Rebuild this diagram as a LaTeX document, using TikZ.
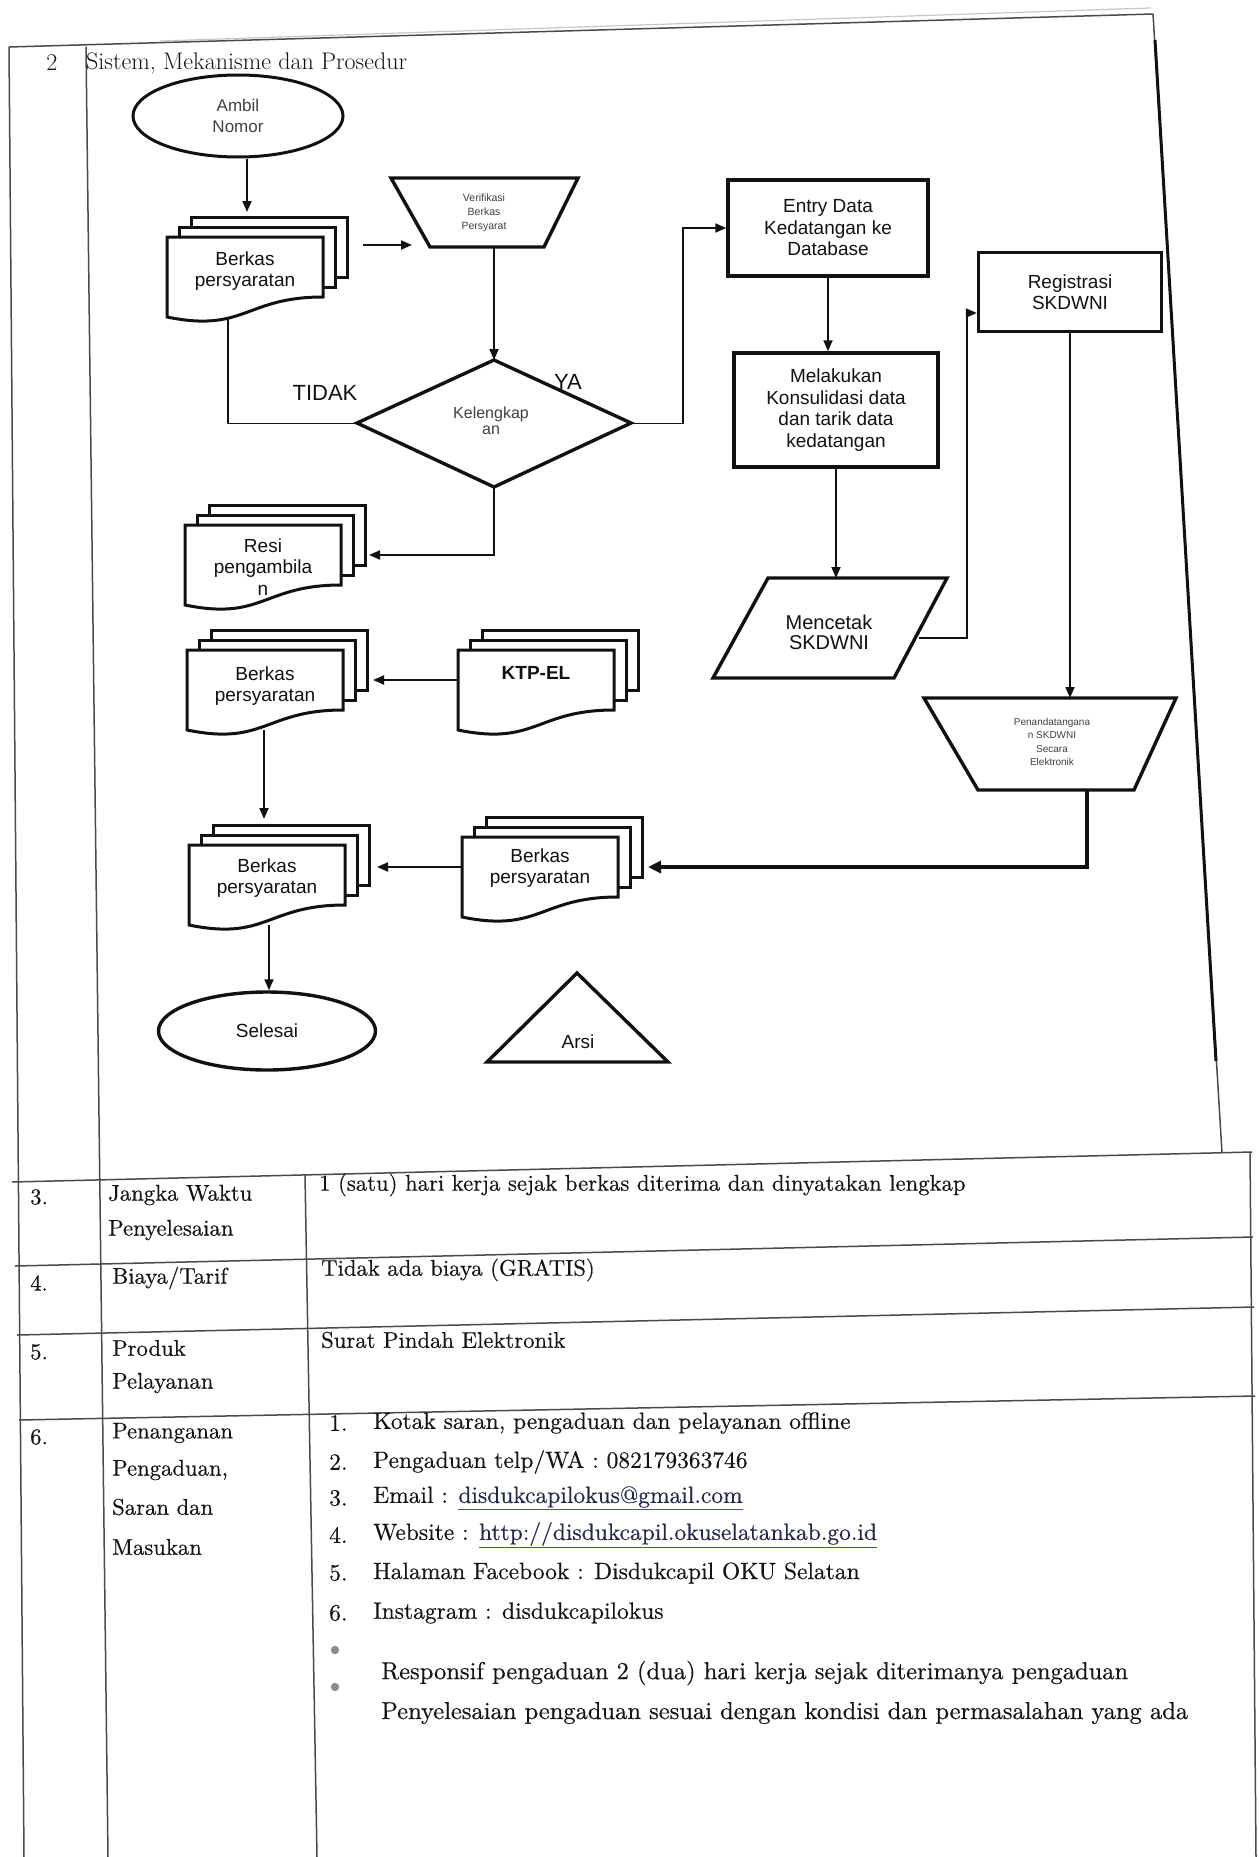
\documentclass[tikz,border=0pt]{standalone}
\usepackage{fontspec}
\newfontfamily\fcsans{Liberation Sans}
\newfontfamily\cellfont{lmroman10-regular.otf}[FakeBold=0.45]
\usetikzlibrary{arrows.meta,shapes.geometric}

\definecolor{inkline}{HTML}{111111}
\definecolor{ruleg}{HTML}{4A4A4A}
\definecolor{cellink}{HTML}{141414}
\definecolor{linkblue}{HTML}{3A55A8}
\definecolor{linktext}{HTML}{23284A}

\tikzset{
  shp/.style={draw=inkline, line width=3.4pt, fill=white, line join=miter},
  docline/.style={draw=inkline, line width=3pt, fill=white, line join=miter},
  conn/.style={draw=inkline, line width=1.8pt},
  arr/.style={conn, -{Triangle[length=11pt,width=9pt]}},
  arrheavy/.style={draw=inkline, line width=3.6pt, -{Triangle[length=13pt,width=12pt]}},
  anchorbox/.style={draw=none, fill=none, inner sep=0pt, outer sep=0pt},
  fctext/.style={font=\fcsans\fontsize{19}{21.5}\selectfont, align=center, inner sep=0pt, text=inkline},
  fcsmall/.style={font=\fcsans\fontsize{16}{16}\selectfont, align=center, inner sep=0pt, text=black!75},
  fctiny/.style={font=\fcsans\fontsize{10.5}{14}\selectfont, align=center, inner sep=0pt, text=black!75},
  fclabel/.style={font=\fcsans\fontsize{22}{24}\selectfont, inner sep=0pt, text=inkline},
  boxnode/.style={shp, rectangle, fctext},
  tabrule/.style={draw=ruleg, line width=1.5pt},
  cell/.style={font=\cellfont\fontsize{22.7}{30}\selectfont, anchor=west, inner sep=0pt, text=cellink},
  celllist/.style={font=\cellfont\fontsize{23.5}{30}\selectfont, anchor=west, inner sep=0pt, text=cellink},
}

% stack of three documents: name, left x, top y, text offset, text, text style
\newcommand\multidoc[6]{%
  \begin{scope}[shift={(#2,#3)}]
    \draw[docline] (24,-20) rectangle (180,40);
    \draw[docline] (12,-10) rectangle (168,50);
    \draw[docline] (0,0) -- (156,0) -- (156,60)
      .. controls (78,60) and (78,96) .. (0,80) -- cycle;
    \node[anchorbox, minimum width=180pt, minimum height=100pt] (#1) at (90,30) {};
    \node[fctext,#6] (#1-t) at (78,#4) {#5};
  \end{scope}}

\newcommand\weblink[1]{{\color{linkblue}\underline{\color{linktext}#1}}}

\begin{document}
\begin{tikzpicture}[x=1pt,y=-1pt]
\useasboundingbox (0,0) rectangle (1258,1857);
\fill[white] (0,0) rectangle (1258,1857);

% ---------- table frame ----------
\draw[black!22, line width=1.2pt] (160,41) -- (1150,8);
\draw[tabrule] (9,47) -- (1153,14);
\draw[tabrule] (9,47) -- (24,1857);
\draw[tabrule] (86,47) -- (108,1857);
\draw[tabrule] (1153,14) -- (1222,1153);
\draw[tabrule] (1250,1152) -- (1256,1857);
\draw[draw=inkline, line width=3pt] (1155,40) -- (1216,1061);
\draw[tabrule] (12,1182) -- (1252,1152);
\draw[tabrule] (15,1266) -- (1253,1237);
\draw[tabrule] (17,1335) -- (1254,1307);
\draw[tabrule] (19,1420) -- (1255,1396);
\draw[tabrule] (305,1175) -- (317,1857);

% ---------- row 2 heading ----------
\node[cell, anchor=center, font=\fontsize{24}{28}\selectfont] (n2) at (52,63) {2};
\node[cell, font=\fontsize{24}{28}\selectfont] (hdr) at (86,63) {Sistem, Mekanisme dan Prosedur};

% ---------- flowchart shapes ----------
\node[shp, ellipse, line width=3pt, minimum width=210pt, minimum height=82pt, inner sep=0pt,
      font=\fcsans\fontsize{17}{21}\selectfont, align=center, text=black!75] (ambil) at (238,116) {Ambil\\Nomor};

\multidoc{b1}{167}{237}{34}{Berkas\\persyaratan}{}

% Verifikasi (manual operation)
\draw[shp] (391,178) -- (578,178) -- (544,247) -- (430,247) -- cycle;
\node[anchorbox, minimum width=187pt, minimum height=69pt] (verif) at (486,212.5) {};
\node[fctiny] (verif-t) at (484,213) {Verifikasi\\Berkas\\Persyarat};

% decision
\draw[shp] (357,423) -- (494,360) -- (631,423) -- (494,487) -- cycle;
\node[anchorbox, minimum width=274pt, minimum height=127pt] (dia) at (494,423.5) {};
\node[fcsmall] (dia-t) at (491,421) {Kelengkap\\an};
\node[fclabel] (tidak) at (325,393) {TIDAK};
\node[fclabel] (ya) at (568,382) {YA};

\node[boxnode, minimum width=200pt, minimum height=96pt] (entry) at (828,228) {Entry Data\\Kedatangan ke\\Database};
\node[boxnode, minimum width=204pt, minimum height=114pt] (mel) at (836,410) {Melakukan\\Konsulidasi data\\dan tarik data\\kedatangan};
\node[boxnode, minimum width=183pt, minimum height=79pt] (reg) at (1070,292) {Registrasi\\SKDWNI};

% Mencetak (data)
\draw[shp] (768,578) -- (947,578) -- (894,678) -- (713,678) -- cycle;
\node[anchorbox, minimum width=234pt, minimum height=100pt] (menc) at (830,628) {};
\node[fctext, font=\fcsans\fontsize{20}{20}\selectfont] (menc-t) at (829,632) {Mencetak\\SKDWNI};

% Penandatanganan (manual operation)
\draw[shp] (924,698) -- (1176,698) -- (1134,790) -- (978,790) -- cycle;
\node[anchorbox, minimum width=252pt, minimum height=92pt] (pen) at (1050,744) {};
\node[fctiny, font=\fcsans\fontsize{10}{13.5}\selectfont] (pen-t) at (1052,742) {Penandatangana\\n SKDWNI\\Secara\\Elektronik};

\multidoc{resi}{185}{525}{42}{Resi\\pengambila\\n}{}
\multidoc{b2}{187}{650}{36}{Berkas\\persyaratan}{}
\multidoc{ktp}{458}{650}{23}{KTP-EL}{font=\fcsans\bfseries\fontsize{19}{21.5}\selectfont}
\multidoc{b3}{189}{845}{33}{Berkas\\persyaratan}{}
\multidoc{b4}{462}{837}{31}{Berkas\\persyaratan}{}

\node[shp, ellipse, minimum width=217pt, minimum height=78pt, inner sep=0pt, fctext] (sel) at (267,1031) {Selesai};

% archive
\draw[shp] (577,973) -- (668,1062) -- (487,1062) -- cycle;
\node[fctext] (arsi) at (578,1042) {Arsi};

% ---------- connectors ----------
\draw[arr, shorten >=5pt] ([xshift=9pt]ambil.south) -- ([xshift=9pt]ambil.south |- b1.north);
\draw[arr] ([xshift=16pt,yshift=22pt]b1.east) -- ++(49,0);
\draw[arr] (dia.north |- verif.south) -- (dia.north);
\draw[conn] ([xshift=-29pt]b1.south) |- (dia.west);
\draw[arr] (dia.east) -- ++(52,0) |- (entry.west);
\draw[arr] (entry.south) -- (entry.south |- mel.north);
\draw[arr] (mel.south) -- (mel.south |- menc.north);
\draw[arr] ([xshift=-28pt,yshift=-10pt]menc.east) -- ++(48,0) |- ([yshift=-21pt]reg.west);
\draw[arr] (reg.south) -- (reg.south |- pen.north);
\draw[arrheavy, shorten >=6pt] ([xshift=37pt]pen.south) |- (b4.east);
\draw[arr, shorten >=4pt] (dia.south) |- (resi.east);
\draw[arr, shorten >=6pt] (ktp.west) -- (ktp.west -| b2.east);
\draw[arr, shorten >=6pt] ([xshift=-13pt]b2.south) -- ([xshift=-13pt]b2.south |- b3.north);
\draw[arr, shorten >=8pt] (b4.west) -- (b4.west -| b3.east);
\draw[arr] ([xshift=-10pt]b3.south) -- ([xshift=-10pt]b3.south |- sel.north);

% ---------- rows 3 to 6 ----------
\node[cell] (n3) at (30,1197) {3.};
\node[cell] (l3a) at (108,1195) {Jangka Waktu};
\node[cell] (l3b) at (108,1230) {Penyelesaian};
\node[cell] (v3) at (319,1185) {1 (satu) hari kerja sejak berkas diterima dan dinyatakan lengkap};

\node[cell] (n4) at (30,1283) {4.};
\node[cell] (l4) at (112,1278) {Biaya/Tarif};
\node[cell] (v4) at (321,1270) {Tidak ada biaya (GRATIS)};

\node[cell] (n5) at (30,1352) {5.};
\node[cell] (l5a) at (112,1348) {Produk};
\node[cell] (l5b) at (112,1383) {Pelayanan};
\node[cell] (v5) at (321,1340) {Surat Pindah Elektronik};

\node[cell] (n6) at (30,1437) {6.};
\node[cell] (l6a) at (112,1433) {Penanganan};
\node[cell] (l6b) at (112,1470) {Pengaduan,};
\node[cell] (l6c) at (112,1507) {Saran dan};
\node[cell] (l6d) at (112,1547) {Masukan};

\node[celllist] (k1) at (329,1423) {1.};
\node[celllist] (t1) at (373,1423) {Kotak saran, pengaduan dan pelayanan offline};
\node[celllist] (k2) at (329,1462) {2.};
\node[celllist] (t2) at (373,1462) {Pengaduan telp/WA : 082179363746};
\node[celllist] (k3) at (329,1498) {3.};
\node[celllist] (t3) at (373,1498) {Email : \weblink{disdukcapilokus@gmail.com}};
\node[celllist] (k4) at (329,1535) {4.};
\node[celllist] (t4) at (373,1535) {Website : \weblink{http://disdukcapil.okuselatankab.go.id}};
\node[celllist] (k5) at (329,1573) {5.};
\node[celllist] (t5) at (373,1573) {Halaman Facebook : Disdukcapil OKU Selatan};
\node[celllist] (k6) at (329,1613) {6.};
\node[celllist] (t6) at (373,1613) {Instagram : disdukcapilokus};

\fill[black!45] (335,1650) circle (4.2);
\fill[black!45] (335,1687) circle (4.2);
\node[celllist, font=\cellfont\fontsize{24.5}{30}\selectfont] (r1) at (381,1673) {Responsif pengaduan 2 (dua) hari kerja sejak diterimanya pengaduan};
\node[celllist, font=\cellfont\fontsize{24.5}{30}\selectfont] (r2) at (381,1713) {Penyelesaian pengaduan sesuai dengan kondisi dan permasalahan yang ada};

\end{tikzpicture}
\end{document}
